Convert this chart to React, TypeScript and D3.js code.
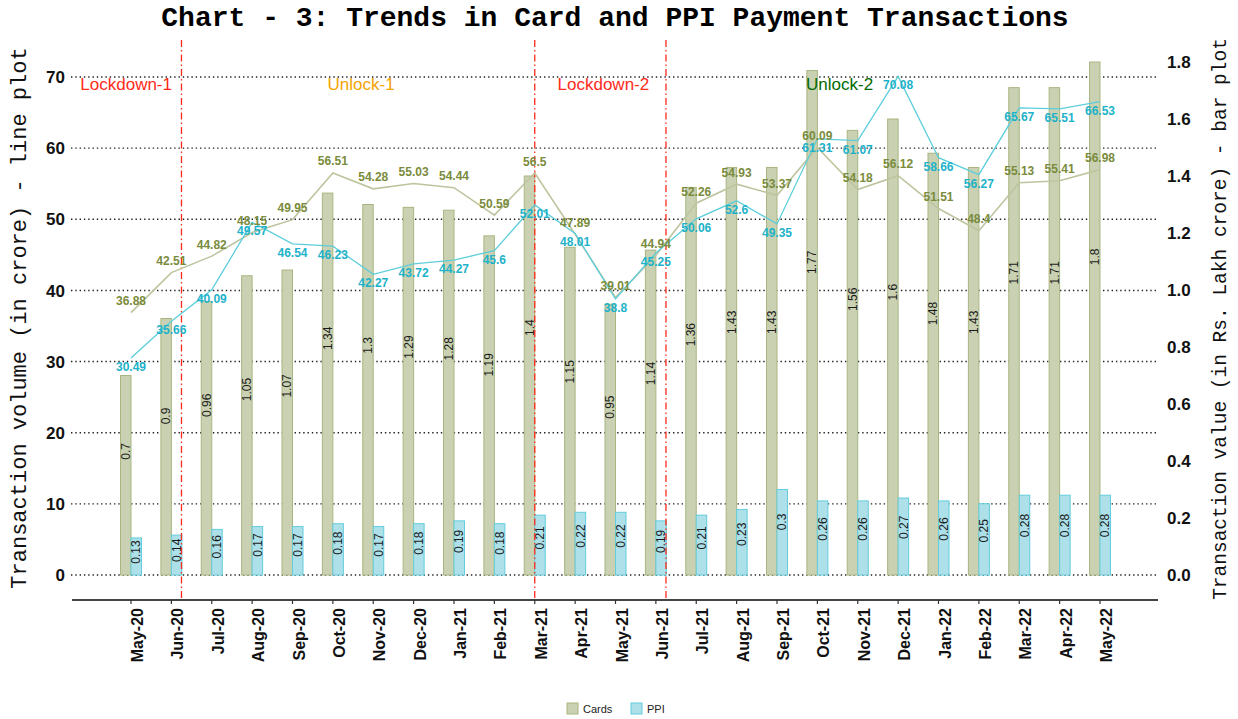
import React, { useEffect, useRef } from "react";
import * as d3 from "d3";

const months = [
  "May-20", "Jun-20", "Jul-20", "Aug-20", "Sep-20", "Oct-20", "Nov-20", "Dec-20",
  "Jan-21", "Feb-21", "Mar-21", "Apr-21", "May-21", "Jun-21", "Jul-21", "Aug-21",
  "Sep-21", "Oct-21", "Nov-21", "Dec-21", "Jan-22", "Feb-22", "Mar-22", "Apr-22", "May-22",
];

// value in Rs. lakh crore (bars, right axis)
const cardsValue = [0.7, 0.9, 0.96, 1.05, 1.07, 1.34, 1.3, 1.29, 1.28, 1.19, 1.4, 1.15, 0.95, 1.14, 1.36, 1.43, 1.43, 1.77, 1.56, 1.6, 1.48, 1.43, 1.71, 1.71, 1.8];
const ppiValue = [0.13, 0.14, 0.16, 0.17, 0.17, 0.18, 0.17, 0.18, 0.19, 0.18, 0.21, 0.22, 0.22, 0.19, 0.21, 0.23, 0.3, 0.26, 0.26, 0.27, 0.26, 0.25, 0.28, 0.28, 0.28];

// volume in crore (lines, left axis)
const cardsVolume = [36.88, 42.51, 44.82, 48.15, 49.95, 56.51, 54.28, 55.03, 54.44, 50.59, 56.5, 47.89, 39.01, 44.94, 52.26, 54.93, 53.37, 60.09, 54.18, 56.12, 51.51, 48.4, 55.13, 55.41, 56.98];
const ppiVolume = [30.49, 35.66, 40.09, 49.57, 46.54, 46.23, 42.27, 43.72, 44.27, 45.6, 52.01, 48.01, 38.8, 45.25, 50.06, 52.6, 49.35, 61.31, 61.07, 70.08, 58.66, 56.27, 65.67, 65.51, 66.53];

const leftTicks = [0, 10, 20, 30, 40, 50, 60, 70];
const rightTicks = [0, 0.2, 0.4, 0.6, 0.8, 1.0, 1.2, 1.4, 1.6, 1.8];

// phase boundaries (month + shift in steps) and phase names
const phaseLines = [
  { month: "Jun-20", shift: 0.25 },
  { month: "Mar-21", shift: 0 },
  { month: "Jun-21", shift: 0.25 },
];
const phaseNames = ["Lockdown-1", "Unlock-1", "Lockdown-2", "Unlock-2"];
const phaseColors = ["#ff2a1a", "#f5a300", "#ff2a1a", "#006a00"];
const phasePos = [-0.12, 5.7, 11.7, 17.55];

const seriesNames = ["Cards", "PPI"];

const App = () => {
  const svgRef = useRef(null);

  useEffect(() => {
    const svg = d3.select(svgRef.current);
    svg.selectAll("*").remove();
    draw(svg);
  }, []);

  const draw = (svg) => {
    const W = 1238, H = 719;
    const plotL = 71, plotR = 1157, axisY = 600;
    const sans = "'Liberation Sans', Arial, sans-serif";
    const mono = "'Liberation Mono', 'Courier New', monospace";

    const cardsFill = "#c9d1b2", cardsStroke = "#a9b681";
    const ppiFill = "#aee0e9", ppiStroke = "#62cddc";
    const cardsLine = "#bdc59f", ppiLine = "#5ccedb";
    const cardsText = "#7a8b3c", ppiText = "#1db2c9";

    svg.attr("width", W).attr("height", H);

    const x = d3.scalePoint().domain(months).range([131, 1100]);
    const step = x.step();
    const yL = d3.scaleLinear().domain([0, 70]).range([575, 77]);
    const yR = d3.scaleLinear().domain([0, 1.8]).range([575, 62]);
    const bw = 10.5;

    // title
    svg.append("text")
      .attr("x", 615).attr("y", 26)
      .attr("text-anchor", "middle")
      .attr("font-family", mono).attr("font-weight", "bold").attr("font-size", "28px")
      .text("Chart - 3: Trends in Card and PPI Payment Transactions");

    // dotted grid
    svg.append("g").selectAll("line").data(leftTicks).enter().append("line")
      .attr("x1", plotL).attr("x2", plotR)
      .attr("y1", (d) => yL(d)).attr("y2", (d) => yL(d))
      .attr("stroke", "#222").attr("stroke-width", 1.4)
      .attr("stroke-dasharray", "1.4,2.9");

    // bars
    const bars = svg.append("g");
    bars.selectAll(".card").data(cardsValue).enter().append("rect")
      .attr("x", (d, i) => x(months[i]) - bw)
      .attr("y", (d) => yR(d))
      .attr("width", bw).attr("height", (d) => yR(0) - yR(d))
      .attr("fill", cardsFill).attr("stroke", cardsStroke).attr("stroke-width", 1);
    bars.selectAll(".ppi").data(ppiValue).enter().append("rect")
      .attr("x", (d, i) => x(months[i]))
      .attr("y", (d) => yR(d))
      .attr("width", bw).attr("height", (d) => yR(0) - yR(d))
      .attr("fill", ppiFill).attr("stroke", ppiStroke).attr("stroke-width", 1);

    const barLabel = (vals, off) => {
      bars.selectAll(null).data(vals).enter().append("text")
        .attr("transform", (d, i) => "translate(" + (x(months[i]) + off) + "," + yR(d * 0.62) + ") rotate(-90)")
        .attr("text-anchor", "middle").attr("dy", "0.35em")
        .attr("font-family", sans).attr("font-size", "12px").attr("fill", "#1a1a1a")
        .text((d) => d);
    };
    barLabel(cardsValue, -bw / 2);
    barLabel(ppiValue, bw / 2);

    // phase separators
    svg.append("g").selectAll("line").data(phaseLines).enter().append("line")
      .attr("x1", (d) => x(d.month) + d.shift * step)
      .attr("x2", (d) => x(d.month) + d.shift * step)
      .attr("y1", 40).attr("y2", 598)
      .attr("stroke", "#ff2a1a").attr("stroke-width", 1.3)
      .attr("stroke-dasharray", "7,3,1.5,3");

    // lines
    const lineL = d3.line().x((d, i) => x(months[i])).y((d) => yL(d));
    svg.append("path").datum(cardsVolume).attr("d", lineL)
      .attr("fill", "none").attr("stroke", cardsLine).attr("stroke-width", 1.6);
    svg.append("path").datum(ppiVolume).attr("d", lineL)
      .attr("fill", "none").attr("stroke", ppiLine).attr("stroke-width", 1.3);

    svg.append("g").selectAll("text").data(cardsVolume).enter().append("text")
      .attr("x", (d, i) => x(months[i])).attr("y", (d) => yL(d) - 7.5)
      .attr("text-anchor", "middle")
      .attr("font-family", sans).attr("font-weight", "bold").attr("font-size", "12px")
      .attr("fill", cardsText).text((d) => d);
    svg.append("g").selectAll("text").data(ppiVolume).enter().append("text")
      .attr("x", (d, i) => x(months[i])).attr("y", (d) => yL(d) + 13)
      .attr("text-anchor", "middle")
      .attr("font-family", sans).attr("font-weight", "bold").attr("font-size", "12px")
      .attr("fill", ppiText).text((d) => d);

    // phase names
    svg.append("g").selectAll("text").data(phaseNames).enter().append("text")
      .attr("x", (d, i) => x(months[0]) + phasePos[i] * step).attr("y", 90)
      .attr("text-anchor", "middle")
      .attr("font-family", sans).attr("font-size", "17px")
      .attr("fill", (d, i) => phaseColors[i]).text((d) => d);

    // x axis
    svg.append("line").attr("x1", plotL + 1).attr("x2", plotR + 1)
      .attr("y1", axisY).attr("y2", axisY)
      .attr("stroke", "#444").attr("stroke-width", 2);
    svg.append("g").selectAll("line").data(months).enter().append("line")
      .attr("x1", (d) => x(d)).attr("x2", (d) => x(d))
      .attr("y1", axisY).attr("y2", axisY + 4)
      .attr("stroke", "#333").attr("stroke-width", 1.2);
    svg.append("g").selectAll("text").data(months).enter().append("text")
      .attr("transform", (d) => "translate(" + (x(d) + 12) + "," + 608 + ") rotate(-90)")
      .attr("text-anchor", "end")
      .attr("font-family", sans).attr("font-weight", "bold").attr("font-size", "16px")
      .attr("fill", "#111").text((d) => d);

    // y axes labels
    svg.append("g").selectAll("text").data(leftTicks).enter().append("text")
      .attr("x", 65).attr("y", (d) => yL(d)).attr("dy", "0.36em")
      .attr("text-anchor", "end")
      .attr("font-family", sans).attr("font-weight", "bold").attr("font-size", "17px")
      .attr("fill", "#111").text((d) => d);
    svg.append("g").selectAll("text").data(rightTicks).enter().append("text")
      .attr("x", 1167).attr("y", (d) => yR(d)).attr("dy", "0.36em")
      .attr("text-anchor", "start")
      .attr("font-family", sans).attr("font-weight", "bold").attr("font-size", "17px")
      .attr("fill", "#111").text((d) => d.toFixed(1));

    svg.append("text")
      .attr("transform", "translate(26,318) rotate(-90)")
      .attr("text-anchor", "middle")
      .attr("font-family", mono).attr("font-size", "22px").attr("fill", "#111")
      .text("Transaction volume (in crore) - line plot");
    svg.append("text")
      .attr("transform", "translate(1226,319) rotate(-90)")
      .attr("text-anchor", "middle")
      .attr("font-family", mono).attr("font-size", "19.5px").attr("fill", "#111")
      .text("Transaction value (in Rs. Lakh crore) - bar plot");

    // legend
    const lg = svg.append("g");
    const legX = [567, 631];
    const legFill = [cardsFill, ppiFill];
    const legStroke = [cardsStroke, ppiStroke];
    seriesNames.forEach((n, i) => {
      lg.append("rect").attr("x", legX[i]).attr("y", 703).attr("width", 11).attr("height", 11)
        .attr("fill", legFill[i]).attr("stroke", legStroke[i]);
      lg.append("text").attr("x", legX[i] + 16).attr("y", 713)
        .attr("font-family", sans).attr("font-size", "11px").attr("fill", "#222").text(n);
    });
  };

  return (
    <div>
      <svg ref={svgRef} style={{ position: "absolute", left: 0, top: 0 }}></svg>
    </div>
  );
};

export default App;
